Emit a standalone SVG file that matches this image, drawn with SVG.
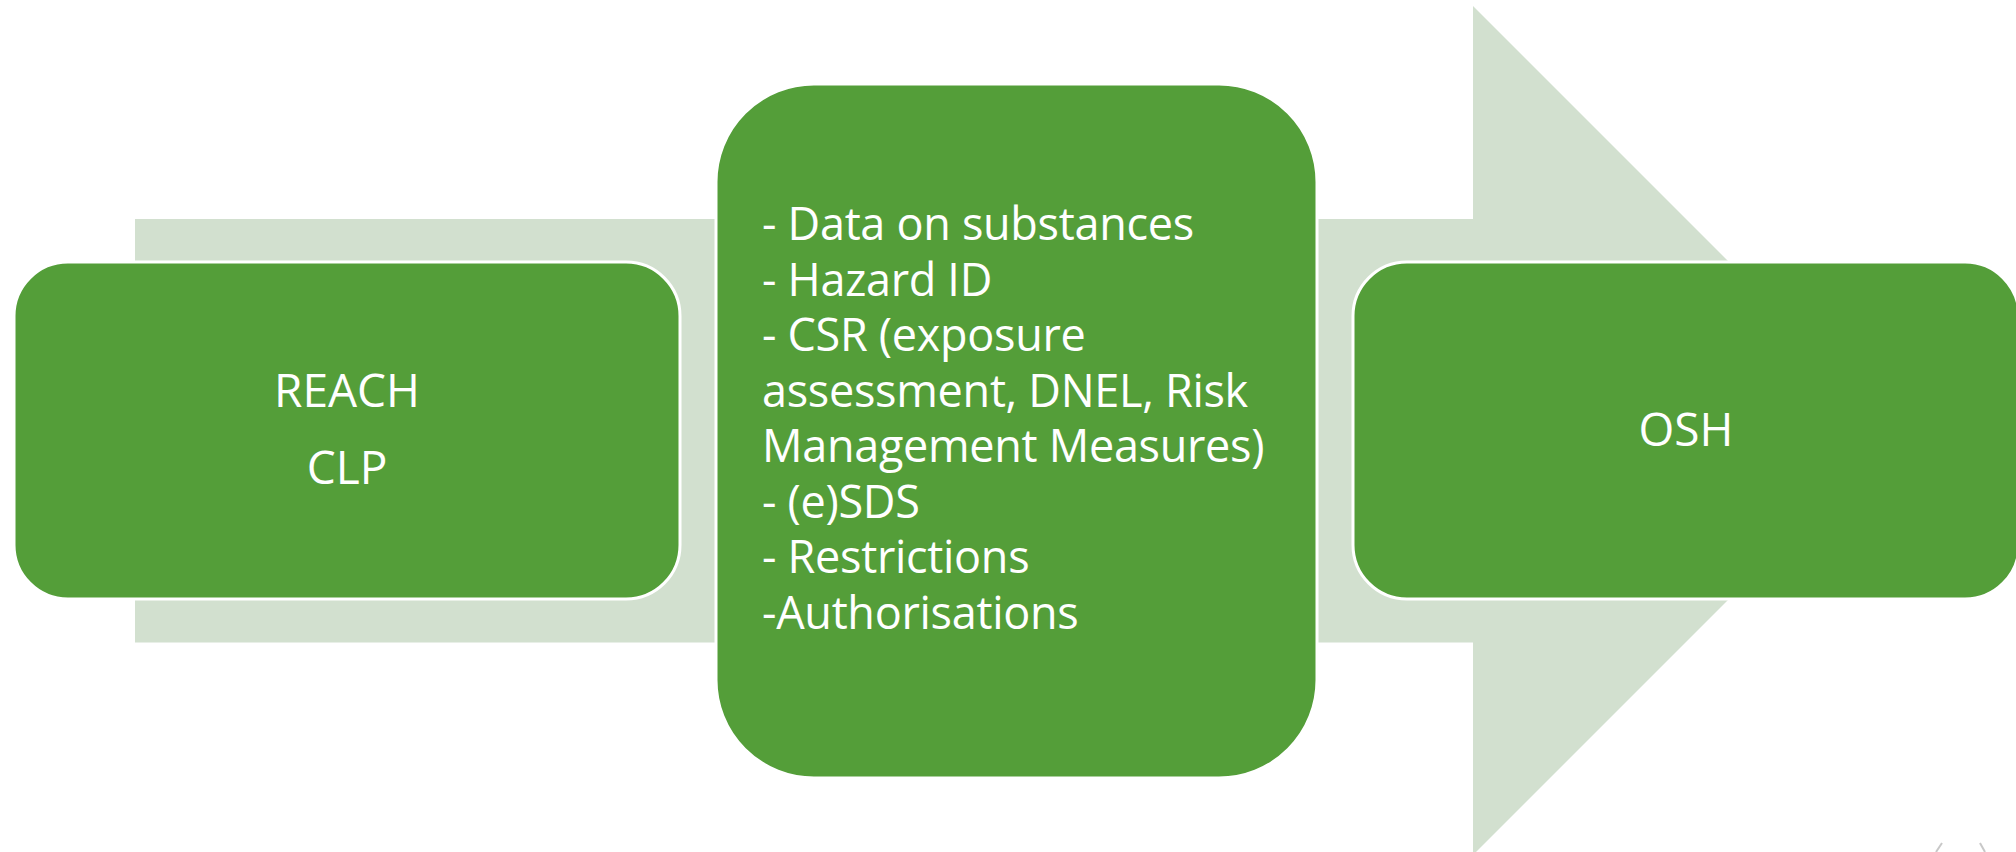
<svg xmlns="http://www.w3.org/2000/svg" width="2016" height="852" viewBox="0 0 2016 852">
  <style>
    .box { fill: #549E39; stroke: #FFFFFF; stroke-width: 3; }
    .lbl { font-family: "Open Sans", "Noto Sans", "Liberation Sans", sans-serif; font-size: 46px; fill: #FFFFFF; }
    .list { font-size: 45px; letter-spacing: -0.3px; }
    .arrow { fill: #D2E0CF; }
    .faint { stroke: #C8C8C8; stroke-width: 2; fill: none; }
  </style>
  <rect x="0" y="0" width="2016" height="852" fill="#FFFFFF"/>
  <g id="connectors">
    <path class="arrow" d="M135,219 H1473 V6 L1897.5,430.5 L1473,855 V642.5 H135 Z"/>
  </g>
  <g id="node-reach-clp">
    <rect class="box" x="14" y="262" width="666" height="337" rx="54" ry="54"/>
    <text class="lbl" x="347" y="407" text-anchor="middle">REACH</text>
    <text class="lbl" x="347" y="484" text-anchor="middle">CLP</text>
  </g>
  <g id="node-data">
    <rect class="box" x="716" y="84" width="601" height="694" rx="98" ry="98"/>
    <text class="lbl list" x="762" y="240">
      <tspan x="762" y="240">- Data on substances</tspan>
      <tspan x="762" y="295.5">- Hazard ID</tspan>
      <tspan x="762" y="351">- CSR (exposure</tspan>
      <tspan x="762" y="406.5">assessment, DNEL, Risk</tspan>
      <tspan x="762" y="462">Management Measures)</tspan>
      <tspan x="762" y="517.5">- (e)SDS</tspan>
      <tspan x="762" y="573">- Restrictions</tspan>
      <tspan x="762" y="628.5">-Authorisations</tspan>
    </text>
  </g>
  <g id="node-osh">
    <rect class="box" x="1353" y="262" width="666" height="337" rx="54" ry="54"/>
    <text class="lbl" x="1686" y="446" text-anchor="middle">OSH</text>
  </g>
  <g id="edge-marks">
    <line class="faint" x1="1942" y1="843" x2="1936" y2="852"/>
    <line class="faint" x1="1980" y1="843" x2="1985" y2="852"/>
  </g>
</svg>
